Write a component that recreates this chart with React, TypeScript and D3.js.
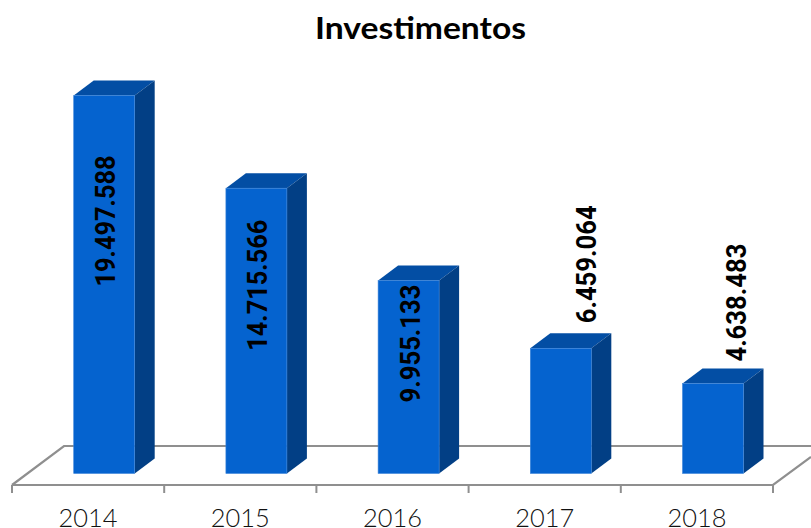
import React from "react";
import * as d3 from "d3";

const categories = ["2014", "2015", "2016", "2017", "2018"];
const values = [19497588, 14715566, 9955133, 6459064, 4638483];
const labelTexts = ["19.497.588", "14.715.566", "9.955.133", "6.459.064", "4.638.483"];
const labelCentreOffsets = [125.5, 97, 63, -84, -81];
const labelSideOffsets = [1.5, 1.5, 1.5, 25.5, 23.5];
const title = "Investimentos";

const W = 811, H = 528;
const floorY = 485, baseY = 473.5, dx = 20, dy = -15;
const x = d3.scaleBand<string>().domain(categories).range([12, 773]);
const y = d3.scaleLinear().domain([0, 19497588]).range([baseY, 95.5]);
const barW = 61;
const barShift = 0.7;
const front = "#0563CF", side = "#023F85", top = "#034EA4", axis = "#8F8F8F";
const poly = (pts: [number, number][]) => pts.map(p => p.join(",")).join(" ");

export default function App() {
  const ticks = [...categories.map(c => x(c)!), 773];
  return (
    <svg width={W} height={H} viewBox={`0 0 ${W} ${H}`} style={{ position: "fixed", left: 0, top: 0, background: "#fff" }}>
      <text x={420.5} y={39} textAnchor="middle" fontFamily="'Lato','Open Sans',sans-serif" fontWeight={700} fontSize={31} textLength={211} lengthAdjust="spacingAndGlyphs" fill="#000">{title}</text>
      <path d={`M12,${floorY} L64,446 L811,446 M12,${floorY} L773,${floorY} L811,457`} fill="none" stroke={axis} strokeWidth={2.2} />
      {ticks.map((t, i) => <line key={i} x1={t} x2={t} y1={floorY} y2={493} stroke={axis} strokeWidth={2} />)}
      {categories.map((c, i) => {
        const x0 = x(c)! + barW + barShift, x1 = x0 + barW, yt = y(values[i]);
        const cy = yt + labelCentreOffsets[i];
        const lx = x0 + barW / 2 + labelSideOffsets[i];
        return (
          <g key={c}>
            <polygon points={poly([[x0, yt], [x1, yt], [x1 + dx, yt + dy], [x0 + dx, yt + dy]])} fill={top} />
            <polygon points={poly([[x1, yt], [x1 + dx, yt + dy], [x1 + dx, baseY + dy], [x1, baseY]])} fill={side} />
            <rect x={x0} y={yt} width={barW} height={baseY - yt} fill={front} stroke="#3F86DA" strokeWidth={0.6} />
            <text transform={`translate(${lx},${cy}) rotate(-90)`} textAnchor="middle" dominantBaseline="central" fontFamily="'Roboto',sans-serif" fontWeight={700} fontSize={28} textLength={labelTexts[i].length === 10 ? 131 : 118} lengthAdjust="spacingAndGlyphs" fill="#000">{labelTexts[i]}</text>
            <text x={x(c)! + x.bandwidth() / 2} y={527} textAnchor="middle" fontFamily="'Lato',sans-serif" fontWeight={300} fontSize={26} textLength={59} lengthAdjust="spacingAndGlyphs" fill="#111">{c}</text>
          </g>
        );
      })}
    </svg>
  );
}
